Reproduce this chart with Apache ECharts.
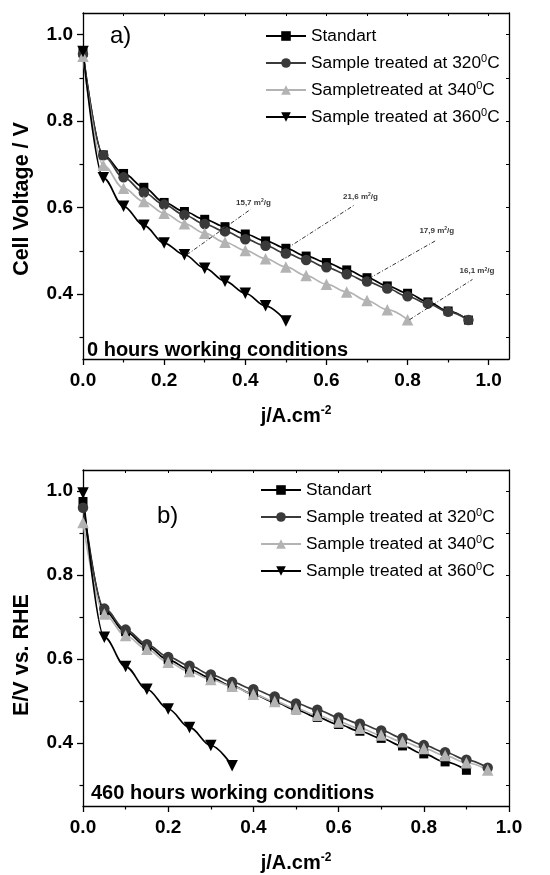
<!DOCTYPE html>
<html><head><meta charset="utf-8">
<script src="https://cdn.jsdelivr.net/npm/echarts@6/dist/echarts.min.js"></script>
<style>html,body{margin:0;padding:0;background:#fff}#c{width:550px;height:875px}</style>
</head><body><div id="c"></div><script>
// ---------- data: panel a) 0 hours ----------
const jTop = [0,0.05,0.1,0.15,0.2,0.25,0.3,0.35,0.4,0.45,0.5,0.55,0.6,0.65,0.7,0.75,0.8,0.85,0.9,0.95];
const stdTop = [0.958,0.722,0.679,0.647,0.612,0.591,0.573,0.556,0.539,0.523,0.506,0.488,0.473,0.456,0.438,0.419,0.402,0.382,0.361,0.340];
const s320Top = [0.955,0.721,0.670,0.635,0.607,0.583,0.562,0.545,0.527,0.512,0.494,0.479,0.462,0.446,0.429,0.413,0.395,0.378,0.359,0.340];
const s340Top = [0.950,0.698,0.645,0.614,0.587,0.563,0.541,0.520,0.501,0.482,0.463,0.443,0.423,0.405,0.385,0.364,0.341];
const s360Top = [0.961,0.669,0.603,0.559,0.518,0.491,0.460,0.430,0.402,0.373,0.338];
// annotations (surface areas) of panel a)
const noteText = ['15,7 m{s|2}/g','21,6 m{s|2}/g','17,9 m{s|2}/g','16,1 m{s|2}/g'];
const noteX = [0.420,0.684,0.872,0.971];
const noteY = [0.612,0.626,0.547,0.454];
const arrowX0 = [0.256,0.503,0.705,0.805];
const arrowY0 = [0.491,0.506,0.436,0.341];
const arrowX1 = [0.413,0.669,0.870,0.960];
const arrowY1 = [0.596,0.606,0.524,0.434];
// ---------- data: panel b) 460 hours ----------
const jBot = [0,0.05,0.1,0.15,0.2,0.25,0.3,0.35,0.4,0.45,0.5,0.55,0.6,0.65,0.7,0.75,0.8,0.85,0.9,0.95];
const stdBot = [0.975,0.715,0.665,0.630,0.598,0.575,0.555,0.536,0.516,0.497,0.479,0.461,0.444,0.428,0.411,0.393,0.374,0.355,0.335];
const s320Bot = [0.960,0.720,0.670,0.635,0.605,0.584,0.563,0.545,0.528,0.511,0.494,0.479,0.461,0.446,0.430,0.412,0.395,0.378,0.360,0.341];
const s340Bot = [0.925,0.707,0.656,0.623,0.592,0.570,0.551,0.535,0.516,0.499,0.482,0.466,0.450,0.435,0.419,0.403,0.387,0.370,0.353,0.336];
const s360Bot = [0.995,0.652,0.582,0.528,0.481,0.437,0.394,0.346];
// ---------- names and ticks ----------
const namesTop = ['Standart','Sample treated at 320⁰C','Sampletreated at 340⁰C','Sample treated at 360⁰C'];
const namesBot = ['Standart','Sample treated at 320⁰C','Sample treated at 340⁰C','Sample treated at 360⁰C'];
const xMajor = [0,0.2,0.4,0.6,0.8,1.0];
const xMinor = [0.1,0.3,0.5,0.7,0.9];
const yMajor = [0.4,0.6,0.8,1.0];
const yMinor = [0.3,0.5,0.7,0.9];
const yAll = [0.3,0.4,0.5,0.6,0.7,0.8,0.9,1.0];

const FONT = '"Liberation Sans", Arial, Helvetica, sans-serif';
const pair = (xs, ys) => ys.map((y, i) => [xs[i], y]);
const lbl = {fontFamily: FONT, fontSize: 19, fontWeight: 'bold', color: '#000'};
const axLine = {show: true, onZero: false, lineStyle: {color: '#000', width: 1.3}};

function xAxes(gi, xMax, name) {
  return [
    {type:'value', gridIndex:gi, position:'bottom', min:0, max:xMax,
     axisLine: axLine,
     axisTick:{show:true, inside:false, length:6, customValues:xMajor, lineStyle:{color:'#000', width:1.3}},
     axisLabel:Object.assign({show:true, margin:12, customValues:xMajor, formatter:v => v.toFixed(1)}, lbl),
     splitLine:{show:false},
     name: name, nameLocation:'middle', nameGap:46,
     nameTextStyle:{fontFamily:FONT, fontSize:20, fontWeight:'bold', color:'#000', lineHeight:22,
       rich:{sup:{fontFamily:FONT, fontSize:12, fontWeight:'bold', color:'#000', verticalAlign:'top', lineHeight:12}}}},
    {type:'value', gridIndex:gi, position:'bottom', min:0, max:xMax,
     axisLine:{show:false},
     axisTick:{show:true, inside:false, length:3.5, customValues:xMinor, lineStyle:{color:'#000', width:1.2}},
     axisLabel:{show:false}, splitLine:{show:false}},
    {type:'value', gridIndex:gi, position:'top', min:0, max:xMax,
     axisLine: axLine,
     axisTick:{show:true, inside:true, length:3, customValues:xMajor.concat(xMinor), lineStyle:{color:'#000', width:1}},
     axisLabel:{show:false}, splitLine:{show:false}}
  ];
}
function yAxes(gi, name, shiftPad) {
  return [
    {type:'value', gridIndex:gi, position:'left', min:0.25, max:1.05,
     axisLine: axLine,
     axisTick:{show:true, inside:false, length:6, customValues:yMajor, lineStyle:{color:'#000', width:1.3}},
     axisLabel:Object.assign({show:true, margin:10, customValues:yMajor, formatter:v => v.toFixed(1)}, lbl),
     splitLine:{show:false},
     name: name, nameLocation:'middle', nameGap:50,
     nameTextStyle:{fontFamily:FONT, fontSize:21.5, fontWeight:'bold', color:'#000', padding:[0, shiftPad, 0, 0]}},
    {type:'value', gridIndex:gi, position:'left', min:0.25, max:1.05,
     axisLine:{show:false},
     axisTick:{show:true, inside:false, length:3.5, customValues:yMinor, lineStyle:{color:'#000', width:1.2}},
     axisLabel:{show:false}, splitLine:{show:false}},
    {type:'value', gridIndex:gi, position:'right', min:0.25, max:1.05,
     axisLine: axLine,
     axisTick:{show:true, inside:true, length:3, customValues:yAll, lineStyle:{color:'#000', width:1}},
     axisLabel:{show:false}, splitLine:{show:false}}
  ];
}

const styles = [
  {color:'#000000', symbol:'rect', size:9, rot:0},
  {color:'#3a3a3a', symbol:'circle', size:10.5, rot:0},
  {color:'#b3b3b3', symbol:'triangle', size:11.5, rot:0},
  {color:'#000000', symbol:'triangle', size:11.5, rot:180}
];
function lineSeries(name, xs, ys, st, xi, yi) {
  return {type:'line', name:name, xAxisIndex:xi, yAxisIndex:yi, data:pair(xs, ys),
    smooth:0.35, smoothMonotone:'x', symbol:st.symbol, symbolSize:st.size, symbolRotate:st.rot, showSymbol:true,
    itemStyle:{color:st.color}, lineStyle:{color:st.color, width:1.7}, z:3};
}

const legendBase = {orient:'vertical', padding:0, itemWidth:40, itemHeight:12, itemGap:7, selectedMode:false,
  formatter: n => n.replace('⁰', '{sup|0}'),
  textStyle:{fontFamily:FONT, fontSize:17.3, color:'#000', lineHeight:20,
    rich:{sup:{fontFamily:FONT, fontSize:11, color:'#000', verticalAlign:'top', lineHeight:11}}}};

const topData = [stdTop, s320Top, s340Top, s360Top];
const botData = [stdBot, s320Bot, s340Bot, s360Bot];
const series = [];
namesTop.forEach((n, i) => series.push(lineSeries(n, jTop, topData[i], styles[i], 0, 0)));
namesBot.forEach((n, i) => series.push(lineSeries(n, jBot, botData[i], styles[i], 3, 3)));
// annotation labels + arrows for panel a)
series.push({type:'scatter', xAxisIndex:0, yAxisIndex:0, symbolSize:0, silent:true, z:5,
  data: noteX.map((x, i) => [x, noteY[i], noteText[i]]),
  label:{show:true, position:'inside', formatter:p => p.data[2],
    fontFamily:FONT, fontSize:8, fontWeight:'bold', color:'#000',
    rich:{s:{fontFamily:FONT, fontSize:5, fontWeight:'bold', color:'#000', verticalAlign:'top', lineHeight:5}}},
  markLine:{silent:true, symbol:['none','arrow'], symbolSize:[0,8], animation:false,
    label:{show:false},
    lineStyle:{type:[4,2,1,2], color:'#000', width:0.8},
    data: arrowX0.map((x, i) => [{coord:[x, arrowY0[i]]}, {coord:[arrowX1[i], arrowY1[i]]}])}});

const option = {
  animation:false,
  backgroundColor:'#fff',
  grid:[
    {left:83, top:13, width:426, height:346},
    {left:83, top:470, width:426, height:342}
  ],
  xAxis: xAxes(0, 1.05, 'j/A.cm{sup|-2}').concat(xAxes(1, 1.0, 'j/A.cm{sup|-2}')),
  yAxis: yAxes(0, 'Cell Voltage / V', 26).concat(yAxes(1, 'E/V vs. RHE', 34)),
  legend:[
    Object.assign({}, legendBase, {data:namesTop, left:265, top:26}),
    Object.assign({}, legendBase, {data:namesBot, left:260, top:480})
  ],
  graphic:[
    {type:'text', left:110, top:24, style:{text:'a)', font:'24px ' + FONT, fill:'#000'}},
    {type:'text', left:157, top:504, style:{text:'b)', font:'24px ' + FONT, fill:'#000'}},
    {type:'text', left:87, top:340, style:{text:'0 hours working conditions', font:'bold 20px ' + FONT, fill:'#000'}},
    {type:'text', left:91, top:783, style:{text:'460 hours working conditions', font:'bold 20px ' + FONT, fill:'#000'}}
  ],
  series: series
};
const chart = echarts.init(document.getElementById('c'), null, {renderer:'canvas'});
chart.setOption(option);
</script></body></html>
